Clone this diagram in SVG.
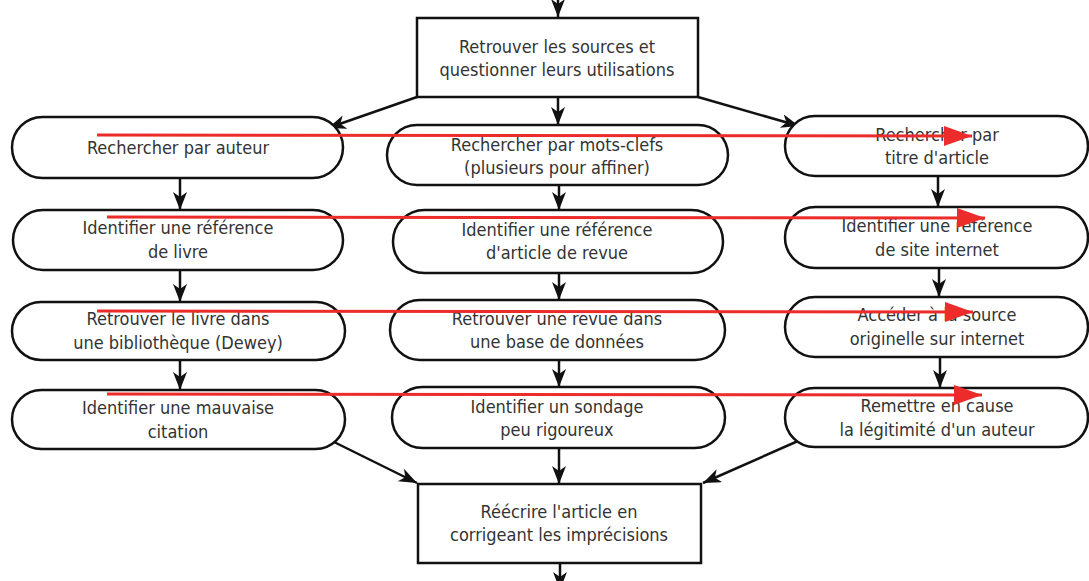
<svg xmlns="http://www.w3.org/2000/svg" width="1089" height="581" viewBox="0 0 1089 581">
<style>
.n{fill:#fff;stroke:#111;stroke-width:2.5}
.t{font-family:"DejaVu Sans Condensed","DejaVu Sans",sans-serif;font-size:18px;fill:#333;text-anchor:middle}
.c{stroke:#111;stroke-width:2.5;fill:none;marker-end:url(#ah)}
.r{stroke:#ec2b2b;stroke-width:3;fill:none;marker-end:url(#rh)}
</style>
<defs>
<marker id="ah" markerUnits="userSpaceOnUse" markerWidth="20" markerHeight="16" refX="18" refY="7" orient="auto">
<path d="M0,0 L18,7 L0,14 L5,7 z" fill="#111"/>
</marker>
<marker id="rh" markerUnits="userSpaceOnUse" markerWidth="30" markerHeight="22" refX="28" refY="10" orient="auto">
<path d="M0,0 L28,10 L0,20 z" fill="#ec2b2b"/>
</marker>
</defs>
<rect width="1089" height="581" fill="#fff"/>
<g id="connectors">
<line class="c" x1="558" y1="-6" x2="558" y2="17"/>
<line class="c" x1="417" y1="97" x2="328" y2="128"/>
<line class="c" x1="558" y1="97" x2="558" y2="125"/>
<line class="c" x1="698" y1="97" x2="799" y2="126"/>
<line class="c" x1="180" y1="178" x2="180" y2="210"/>
<line class="c" x1="180" y1="270" x2="180" y2="302"/>
<line class="c" x1="180" y1="360" x2="180" y2="390"/>
<line class="c" x1="559" y1="185" x2="559" y2="210"/>
<line class="c" x1="559" y1="273" x2="559" y2="300"/>
<line class="c" x1="559" y1="360" x2="559" y2="387"/>
<line class="c" x1="938" y1="176" x2="938" y2="207"/>
<line class="c" x1="939" y1="268" x2="939" y2="297"/>
<line class="c" x1="940" y1="357" x2="940" y2="388"/>
<line class="c" x1="332" y1="441" x2="417" y2="483"/>
<line class="c" x1="559" y1="448" x2="559" y2="484"/>
<line class="c" x1="798" y1="441" x2="703" y2="483"/>
<line class="c" x1="560" y1="563" x2="560" y2="590"/>
</g>
<g id="top"><rect class="n" x="417" y="18" width="281" height="79"/>
<text class="t" x="557" y="53">Retrouver les sources et</text><text class="t" x="557" y="76">questionner leurs utilisations</text></g>
<g id="l1"><rect class="n" x="12" y="117" width="331" height="61" rx="30.5"/>
<text class="t" x="178" y="154">Rechercher par auteur</text></g>
<g id="m1"><rect class="n" x="387" y="125" width="341" height="60" rx="30"/>
<text class="t" x="557" y="151">Rechercher par mots-clefs</text><text class="t" x="557" y="174">(plusieurs pour affiner)</text></g>
<g id="r1"><rect class="n" x="785" y="116" width="303" height="60" rx="30"/>
<text class="t" x="937" y="141">Rechercher par</text><text class="t" x="937" y="164">titre d'article</text></g>
<g id="l2"><rect class="n" x="13" y="210" width="330" height="60" rx="30"/>
<text class="t" x="178" y="234">Identifier une référence</text><text class="t" x="178" y="258">de livre</text></g>
<g id="m2"><rect class="n" x="393" y="210" width="330" height="63" rx="31.5"/>
<text class="t" x="557" y="236">Identifier une référence</text><text class="t" x="557" y="259">d'article de revue</text></g>
<g id="r2"><rect class="n" x="785" y="207" width="303" height="61" rx="30.5"/>
<text class="t" x="937" y="232">Identifier une référence</text><text class="t" x="937" y="256">de site internet</text></g>
<g id="l3"><rect class="n" x="12" y="302" width="333" height="58" rx="29"/>
<text class="t" x="178" y="325">Retrouver le livre dans</text><text class="t" x="178" y="349">une bibliothèque (Dewey)</text></g>
<g id="m3"><rect class="n" x="390" y="300" width="335" height="60" rx="30"/>
<text class="t" x="557" y="325">Retrouver une revue dans</text><text class="t" x="557" y="348">une base de données</text></g>
<g id="r3"><rect class="n" x="785" y="297" width="303" height="60" rx="30"/>
<text class="t" x="937" y="321">Accéder à la source</text><text class="t" x="937" y="345">originelle sur internet</text></g>
<g id="l4"><rect class="n" x="12" y="390" width="333" height="59" rx="29.5"/>
<text class="t" x="178" y="414">Identifier une mauvaise</text><text class="t" x="178" y="438">citation</text></g>
<g id="m4"><rect class="n" x="392" y="387" width="333" height="61" rx="30.5"/>
<text class="t" x="557" y="413">Identifier un sondage</text><text class="t" x="557" y="436">peu rigoureux</text></g>
<g id="r4"><rect class="n" x="785" y="388" width="303" height="59" rx="29.5"/>
<text class="t" x="937" y="412">Remettre en cause</text><text class="t" x="937" y="436">la légitimité d'un auteur</text></g>
<g id="bottom"><rect class="n" x="418" y="484" width="283" height="79"/>
<text class="t" x="559" y="518">Réécrire l'article en</text><text class="t" x="559" y="541">corrigeant les imprécisions</text></g>
<g id="red">
<line class="r" x1="97" y1="135" x2="972" y2="136"/>
<line class="r" x1="107" y1="217" x2="985" y2="218"/>
<line class="r" x1="97" y1="311" x2="973" y2="312"/>
<line class="r" x1="107" y1="394" x2="982" y2="395"/>
</g>
</svg>
